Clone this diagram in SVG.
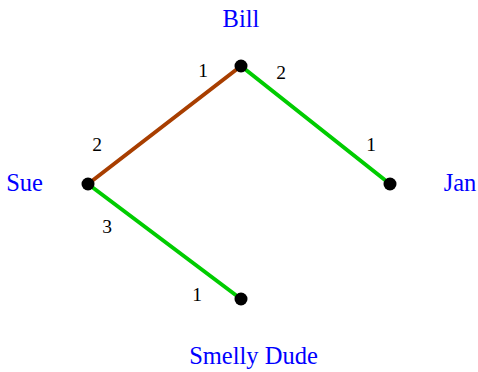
<svg xmlns="http://www.w3.org/2000/svg" width="478" height="372" viewBox="0 0 478 372">
<style>
.name{font-family:"Liberation Serif",serif;font-size:24.5px;fill:#0000ff;text-anchor:middle}
.num{font-family:"Liberation Serif",serif;font-size:19.5px;fill:#000;text-anchor:middle}
.e{stroke-width:4;stroke-linecap:round}
.dot{fill:#000}
</style>
<rect width="478" height="372" fill="#fff"/>
<g id="edges">
<line class="e" x1="88" y1="184" x2="241" y2="66" stroke="#a83e00"/>
<line class="e" x1="241" y1="66" x2="390" y2="184" stroke="#00cc00"/>
<line class="e" x1="88" y1="184" x2="241" y2="299" stroke="#00cc00"/>
<text class="num" x="203" y="77">1</text>
<text class="num" x="281" y="79">2</text>
<text class="num" x="97" y="151">2</text>
<text class="num" x="107" y="233">3</text>
<text class="num" x="371" y="151">1</text>
<text class="num" x="197" y="301">1</text>
</g>
<g id="bill"><circle class="dot" cx="241" cy="66" r="6.5"/><text class="name" x="241" y="27">Bill</text></g>
<g id="sue"><circle class="dot" cx="88" cy="184" r="6.5"/><text class="name" x="24.5" y="191">Sue</text></g>
<g id="jan"><circle class="dot" cx="390" cy="184" r="6.5"/><text class="name" x="460" y="191">Jan</text></g>
<g id="smelly"><circle class="dot" cx="241" cy="299" r="6.5"/><text class="name" x="253.5" y="364">Smelly Dude</text></g>
</svg>
